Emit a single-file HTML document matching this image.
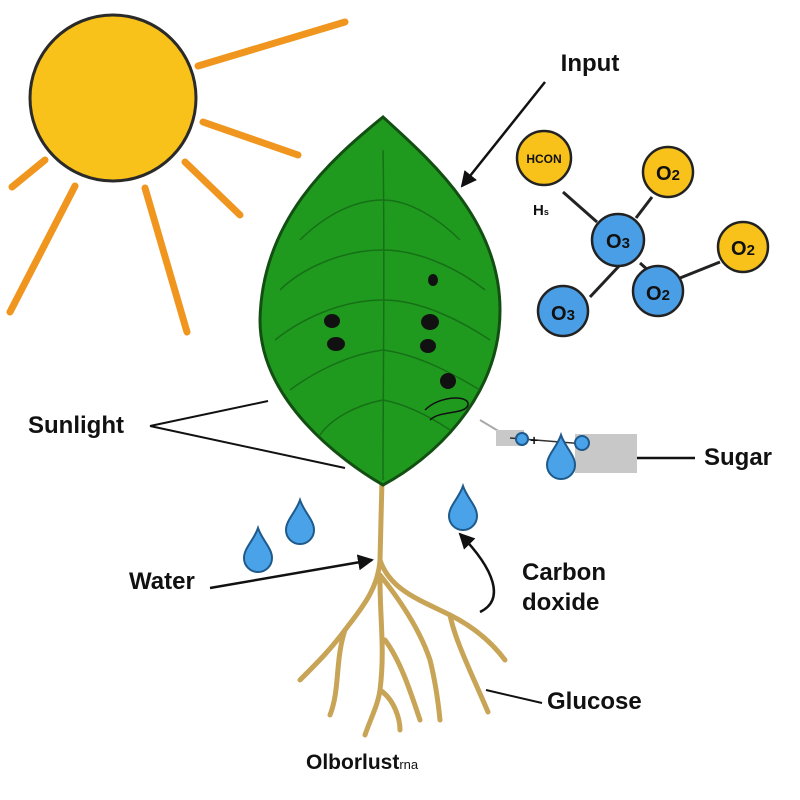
<!DOCTYPE html>
<html><head><meta charset="utf-8"><style>
html,body{margin:0;padding:0;background:#fff;}
svg{display:block;}
text{font-family:"Liberation Sans",sans-serif;font-weight:bold;fill:#111;}
</style></head><body>
<svg width="800" height="800" viewBox="0 0 800 800" xmlns="http://www.w3.org/2000/svg">
<defs>
<marker id="ah2" markerWidth="16" markerHeight="16" refX="14" refY="8" orient="auto" markerUnits="userSpaceOnUse"><path d="M0,0 L16,8 L0,16 Z" fill="#111"/></marker>
<g id="drop"><path d="M0,-22 C4,-10 14,-2 14,8 A14,14 0 0 1 -14,8 C-14,-2 -4,-10 0,-22 Z" fill="#4aa3e8" stroke="#1e5a8c" stroke-width="2"/></g>
</defs>
<g stroke="#f0961e" stroke-width="7" stroke-linecap="round">
<line x1="198" y1="66" x2="345" y2="22"/>
<line x1="203" y1="122" x2="298" y2="155"/>
<line x1="185" y1="162" x2="240" y2="215"/>
<line x1="145" y1="188" x2="187" y2="332"/>
<line x1="75" y1="186" x2="10" y2="312"/>
<line x1="45" y1="160" x2="12" y2="187"/>
</g>
<circle cx="113" cy="98" r="83" fill="#f9c21a" stroke="#2a2a2a" stroke-width="3"/>
<g fill="none" stroke="#c8a456" stroke-width="5" stroke-linecap="round">
<path d="M382,480 L380,560 C378,590 360,610 345,630 C330,650 320,660 300,680"/>
<path d="M345,630 C335,660 340,690 330,715"/>
<path d="M380,560 C390,590 420,600 450,615 C470,625 490,640 505,660"/>
<path d="M450,615 C455,640 470,670 488,712"/>
<path d="M380,580 C380,620 385,650 380,690 C378,705 370,720 365,735"/>
<path d="M385,640 C400,660 410,690 420,720"/>
<path d="M380,690 C395,700 400,720 400,730"/>
<path d="M380,575 C400,600 420,630 430,660 C435,680 438,700 440,720"/>
</g>
<path d="M383,117 C330,160 262,220 260,320 C260,400 340,460 383,485 C430,460 500,400 500,310 C500,220 430,160 383,117Z" fill="#1f9a1f" stroke="#134f13" stroke-width="3"/>
<g fill="none" stroke="#146614" stroke-width="1.5" opacity="0.8">
<path d="M383,150 C385,250 383,380 383,480"/>
<path d="M383,200 C350,200 320,220 300,240"/><path d="M383,200 C410,200 440,220 460,240"/>
<path d="M383,250 C340,250 300,270 280,290"/><path d="M383,250 C420,250 460,270 485,290"/>
<path d="M383,300 C340,300 300,320 275,340"/><path d="M383,300 C420,300 460,320 490,340"/>
<path d="M383,350 C345,355 310,375 290,390"/><path d="M383,350 C420,355 455,375 480,390"/>
<path d="M383,400 C355,405 330,420 320,435"/><path d="M383,400 C410,405 435,420 450,430"/>
</g>
<g fill="#111">
<ellipse cx="332" cy="321" rx="8" ry="7"/><ellipse cx="336" cy="344" rx="9" ry="7"/>
<ellipse cx="430" cy="322" rx="9" ry="8"/><ellipse cx="428" cy="346" rx="8" ry="7"/>
<ellipse cx="433" cy="280" rx="5" ry="6"/><ellipse cx="448" cy="381" rx="8" ry="8"/>
</g>
<path d="M425,410 C440,395 470,395 468,405 C465,415 440,410 430,420" fill="none" stroke="#111" stroke-width="1.5"/>
<line x1="480" y1="420" x2="500" y2="432" stroke="#aaa" stroke-width="2"/>
<rect x="496" y="430" width="28" height="16" fill="#c8c8c8"/>
<rect x="575" y="434" width="62" height="39" fill="#c8c8c8"/>
<line x1="510" y1="438" x2="585" y2="444" stroke="#333" stroke-width="1.5"/>
<circle cx="522" cy="439" r="6" fill="#4aa3e8" stroke="#1e5a8c" stroke-width="2"/>
<circle cx="582" cy="443" r="7" fill="#4aa3e8" stroke="#1e5a8c" stroke-width="2"/>
<text x="530" y="445" font-size="14" font-weight="normal">+</text>
<use href="#drop" x="561" y="457"/>
<line x1="637" y1="458" x2="695" y2="458" stroke="#111" stroke-width="2.5"/>
<use href="#drop" x="258" y="550"/>
<use href="#drop" x="300" y="522"/>
<use href="#drop" x="463" y="508"/>
<g stroke="#222" stroke-width="3">
<line x1="563" y1="192" x2="597" y2="222"/>
<line x1="636" y1="218" x2="652" y2="197"/>
<line x1="620" y1="265" x2="590" y2="297"/>
<line x1="640" y1="263" x2="650" y2="272"/>
<line x1="680" y1="278" x2="720" y2="262"/>
</g>
<g stroke="#222" stroke-width="2.5">
<circle cx="544" cy="158" r="27" fill="#f9c21a"/>
<circle cx="668" cy="172" r="25" fill="#f9c21a"/>
<circle cx="743" cy="247" r="25" fill="#f9c21a"/>
<circle cx="618" cy="240" r="26" fill="#4a9ee6"/>
<circle cx="563" cy="311" r="25" fill="#4a9ee6"/>
<circle cx="658" cy="291" r="25" fill="#4a9ee6"/>
</g>
<text x="544" y="163" font-size="12" text-anchor="middle">HCON</text>
<text x="668" y="180" font-size="20" text-anchor="middle">O<tspan font-size="15">2</tspan></text>
<text x="743" y="255" font-size="20" text-anchor="middle">O<tspan font-size="15">2</tspan></text>
<text x="618" y="248" font-size="20" text-anchor="middle">O<tspan font-size="15">3</tspan></text>
<text x="563" y="320" font-size="20" text-anchor="middle">O<tspan font-size="15">3</tspan></text>
<text x="658" y="300" font-size="20" text-anchor="middle">O<tspan font-size="15">2</tspan></text>
<text x="533" y="215" font-size="15">H<tspan font-size="9">s</tspan></text>
<text x="590" y="71" font-size="24" text-anchor="middle">Input</text>
<line x1="545" y1="82" x2="462" y2="186" stroke="#111" stroke-width="2.5" marker-end="url(#ah2)"/>
<text x="28" y="433" font-size="24">Sunlight</text>
<line x1="150" y1="426" x2="268" y2="401" stroke="#111" stroke-width="2"/>
<line x1="150" y1="426" x2="345" y2="468" stroke="#111" stroke-width="2"/>
<text x="704" y="465" font-size="24">Sugar</text>
<text x="129" y="589" font-size="24">Water</text>
<line x1="210" y1="588" x2="372" y2="560" stroke="#111" stroke-width="2.5" marker-end="url(#ah2)"/>
<text x="522" y="580" font-size="24">Carbon</text>
<text x="522" y="610" font-size="24">doxide</text>
<path d="M480,612 C505,600 495,570 460,534" fill="none" stroke="#111" stroke-width="2.5" marker-end="url(#ah2)"/>
<text x="547" y="709" font-size="24">Glucose</text>
<line x1="486" y1="690" x2="542" y2="703" stroke="#111" stroke-width="2"/>
<text x="306" y="769" font-size="21">Olborlust<tspan font-size="13" font-weight="normal">rna</tspan></text>
</svg>
</body></html>
